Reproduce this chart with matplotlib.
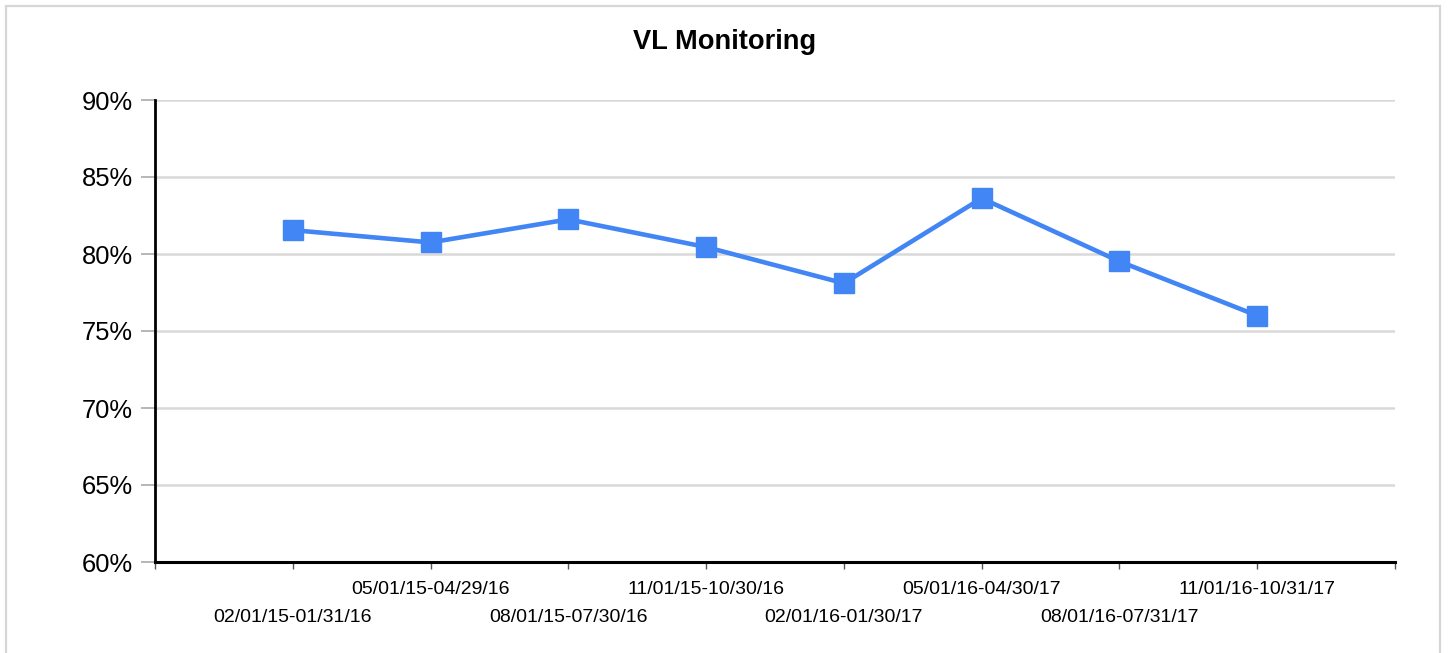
import matplotlib
matplotlib.use("Agg")
import matplotlib.pyplot as plt
from matplotlib.patches import Rectangle
from matplotlib.ticker import FuncFormatter

periods = ["02/01/15-01/31/16", "05/01/15-04/29/16", "08/01/15-07/30/16",
           "11/01/15-10/30/16", "02/01/16-01/30/17", "05/01/16-04/30/17",
           "08/01/16-07/31/17", "11/01/16-10/31/17"]
values = [81.55, 80.75, 82.25, 80.45, 78.1, 83.62, 79.52, 76.0]
title = "VL Monitoring"

plt.rcParams['font.family'] = ['Liberation Sans', 'DejaVu Sans']

W, H = 1448, 653
fig = plt.figure(figsize=(W / 100, H / 100), dpi=100)
ax = fig.add_axes([155 / W, 1 - 562 / H, (1395 - 155) / W, (562 - 100) / H])

# figure border
fig.patches.append(Rectangle((6 / W, -0.05), (1440 - 6) / W, 1.05 - 6 / H,
                             transform=fig.transFigure, fill=False,
                             edgecolor='#d6d6d6', linewidth=1.6))

x = list(range(1, len(values) + 1))
ax.plot(x, values, color='#4285f4', linewidth=3.3, marker='s',
        markersize=15, markerfacecolor='#4285f4', markeredgecolor='#4285f4',
        zorder=3, clip_on=False)

ax.set_xlim(0, len(values) + 1)
ax.set_ylim(60, 90)
ax.set_yticks(range(60, 91, 5))
ax.yaxis.set_major_formatter(FuncFormatter(lambda v, p: f"{int(v)}%"))
ax.grid(axis='y', color='#d9d9d9', linewidth=1.8, zorder=0)

ax.set_xticks(range(0, len(values) + 2))
ax.set_xticklabels([""] + periods + [""], fontsize=14)
ticks = ax.xaxis.get_major_ticks()
for i in range(1, len(values) + 1):
    if i % 2 == 1:
        ticks[i].set_pad(28.5)
    else:
        ticks[i].set_pad(9)

ax.tick_params(axis='x', length=5, width=1, color='#555555')
ax.tick_params(axis='y', length=10, width=1.2, color='#aaaaaa', labelsize=18.4, pad=6)

for s in ['top', 'right']:
    ax.spines[s].set_visible(False)
ax.spines['left'].set_linewidth(2)
ax.spines['bottom'].set_linewidth(2.2)
ax.spines['left'].set_color('black')
ax.spines['bottom'].set_color('black')

fig.text(725 / W, 1 - 42 / H, title, ha='center', va='center',
         fontsize=19.6, fontweight='bold')

fig.savefig("out.png", dpi=100)
